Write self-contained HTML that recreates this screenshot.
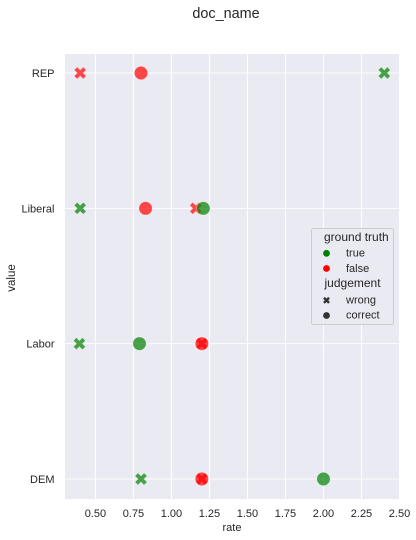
<!DOCTYPE html>
<html>
<head>
<meta charset="utf-8">
<style>
html,body{margin:0;padding:0;background:#fff;}
svg{display:block;font-family:"Liberation Sans",Arial,sans-serif;}
text{fill:#262626;}
</style>
</head>
<body>
<svg id="chart" width="416" height="540" viewBox="0 0 416 540" xmlns="http://www.w3.org/2000/svg">
  <text x="226" y="18" font-size="14.4" text-anchor="middle">doc_name</text>
  <rect x="65" y="54" width="334" height="445" fill="#eaeaf2"/>
  <g id="grid"></g>
  <g id="ticks"></g>
  <g id="marks"></g>
  <text x="232" y="531" font-size="11" text-anchor="middle">rate</text>
  <text transform="translate(15 278) rotate(-90)" font-size="11.5" text-anchor="middle">value</text>
  <g>
    <rect x="311.5" y="228.5" width="82" height="96" rx="2" fill="#eaeaf2" fill-opacity="0.8" stroke="#cccccc" stroke-width="1"/>
    <text x="324" y="241" font-size="12">ground truth</text>
    <circle cx="326.5" cy="253.3" r="3.4" fill="#008000"/>
    <text x="346" y="256.5" font-size="11">true</text>
    <circle cx="326.5" cy="268.5" r="3.4" fill="#ff0000"/>
    <text x="346" y="272" font-size="11">false</text>
    <text x="324.5" y="287" font-size="12">judgement</text>
    <polygon transform="translate(326.5 300.3) scale(1.7)" points="-1,-2 0,-1 1,-2 2,-1 1,0 2,1 1,2 0,1 -1,2 -2,1 -1,0 -2,-1" fill="#333333"/>
    <text x="346" y="303.5" font-size="11">wrong</text>
    <circle cx="326.5" cy="315.5" r="3.4" fill="#333333"/>
    <text x="346" y="318.5" font-size="11">correct</text>
  </g>
</svg>
<script>
const categories = ['REP', 'Liberal', 'Labor', 'DEM'];
const xTickValues = [0.5, 0.75, 1.0, 1.25, 1.5, 1.75, 2.0, 2.25, 2.5];
const xTickLabels = ['0.50', '0.75', '1.00', '1.25', '1.50', '1.75', '2.00', '2.25', '2.50'];
const pointCategories = ['REP', 'REP', 'REP', 'Liberal', 'Liberal', 'Liberal', 'Liberal', 'Labor', 'Labor', 'Labor', 'Labor', 'DEM', 'DEM', 'DEM', 'DEM'];
const pointRates = [0.4, 0.8, 2.4, 0.4, 0.83, 1.16, 1.21, 0.395, 0.79, 1.2, 1.2, 0.8, 1.2, 1.2, 2.0];
const pointTruth = [false, false, true, true, false, false, true, true, true, false, false, true, false, false, true];
const pointJudgement = ['wrong', 'correct', 'wrong', 'wrong', 'correct', 'wrong', 'correct', 'wrong', 'correct', 'wrong', 'correct', 'wrong', 'wrong', 'correct', 'correct'];

const NS = 'http://www.w3.org/2000/svg';
const plotLeft = 65, plotRight = 399, plotTop = 54, plotBottom = 499;
function xScale(v) { return 95.4 + (v - 0.5) * 152.05; }
function yScale(c) { return 73 + categories.indexOf(c) * 135.33; }
function make(tag, attrs) {
  const el = document.createElementNS(NS, tag);
  for (const k in attrs) el.setAttribute(k, attrs[k]);
  return el;
}
const grid = document.getElementById('grid');
const ticks = document.getElementById('ticks');
const marks = document.getElementById('marks');

xTickValues.forEach(function (v, i) {
  const line = make('line', { x1: xScale(v), x2: xScale(v), y1: plotTop, y2: plotBottom, stroke: '#ffffff', 'stroke-width': 1 });
  
  
  grid.appendChild(line);
  const label = make('text', { x: xScale(v), y: 517, 'font-size': 11, 'text-anchor': 'middle' });
  label.textContent = xTickLabels[i];
  
  
  ticks.appendChild(label);
});

categories.forEach(function (c) {
  const line = make('line', { x1: plotLeft, x2: plotRight, y1: yScale(c), y2: yScale(c), stroke: '#ffffff', 'stroke-width': 1 });
  
  
  grid.appendChild(line);
  const label = make('text', { x: 54.5, y: yScale(c) + 4, 'font-size': 11, 'text-anchor': 'end' });
  label.textContent = c;
  
  
  ticks.appendChild(label);
});

pointRates.forEach(function (rate, i) {
  const px = xScale(rate);
  const py = yScale(pointCategories[i]);
  const color = pointTruth[i] ? '#008000' : '#ff0000';
  let mark;
  if (pointJudgement[i] === 'correct') {
    mark = make('circle', { cx: px, cy: py, r: 6.7 });
  } else {
    mark = make('polygon', {
      points: '-1,-2 0,-1 1,-2 2,-1 1,0 2,1 1,2 0,1 -1,2 -2,1 -1,0 -2,-1',
      transform: 'translate(' + px + ' ' + py + ') scale(3.05)'
    });
  }
  mark.setAttribute('fill', color);
  mark.setAttribute('fill-opacity', '0.7');
  mark.setAttribute('stroke', '#ffffff');
  mark.setAttribute('stroke-opacity', '0.5');
  mark.setAttribute('stroke-width', '0.7');
  mark.setAttribute('vector-effect', 'non-scaling-stroke');
  
  
  marks.appendChild(mark);
});
</script>
</body>
</html>
